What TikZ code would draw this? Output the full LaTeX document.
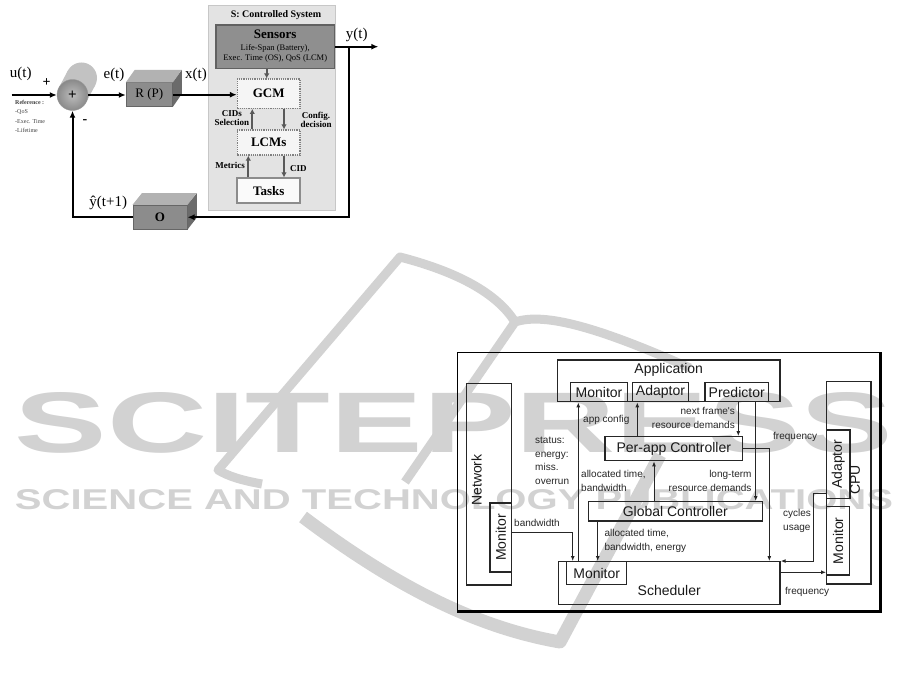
\documentclass[tikz,border=0pt]{standalone}
\usepackage{graphicx}
\usepackage{fontspec}
\setmainfont{Liberation Serif}
\newfontfamily\arialfont{Liberation Sans}
\usetikzlibrary{arrows.meta,calc}
\definecolor{wmgray}{RGB}{210,210,210}

\begin{document}
\begin{tikzpicture}[x=1pt, y=-1pt,
  sysbox/.style={draw=black!85, line width=1.3pt, inner sep=0pt, text=black!90, font=\arialfont\fontsize{14}{16}\selectfont},
  lbl/.style={font=\arialfont\fontsize{10}{13.5}\selectfont, inner sep=0pt, align=left, text=black!85},
  flow/.style={-{Latex[length=5pt,width=4pt]}, line width=1pt, black!85},
  sigline/.style={-{Latex[length=7pt,width=6pt]}, line width=2pt},
  garr/.style={-{Latex[length=5pt,width=5.5pt]}, line width=1.8pt, black!65},
  cmbox/.style={draw=black!50, densely dotted, line width=1.2pt, fill=black!4, minimum width=62.7pt, inner sep=0pt, font=\fontsize{13}{15}\selectfont\bfseries},
  siglbl/.style={font=\fontsize{15}{16}\selectfont, inner sep=0pt},
  cslbl/.style={font=\fontsize{9}{9.5}\selectfont\bfseries, inner sep=0pt, align=center},
  cube/.style={draw=black!60, fill=black!45, inner sep=0pt, font=\fontsize{13}{15}\selectfont},
  wm/.style={text=wmgray, inner sep=0pt, font=\arialfont\bfseries},
  wmline/.style={draw=wmgray, line width=9pt, line join=round}
]

\useasboundingbox (0,0) rectangle (901,684);

% watermark
\node[wm] (wmtitle) at (454,423) {\resizebox{878pt}{60pt}{SCITEPRESS}};
\node[wm] (wmsub) at (454,500) {\resizebox{878pt}{20pt}{SCIENCE AND TECHNOLOGY PUBLICATIONS}};
\draw[wmline] (262,484) .. controls (240,480) and (228,476) .. (218,470) -- (400,257)
  .. controls (450,270) and (495,290) .. (515,322)
  .. controls (545,312) and (600,328) .. (690,368);
\draw[wmline] (515,322) -- (405,482);
\draw[wmline, line width=13pt] (303,517) .. controls (400,590) and (480,628) .. (560,642) -- (660,455);

% controlled system
\node[draw=black!22, fill=black!11, minimum width=126.7pt, minimum height=205pt, inner sep=0pt] (cs) at (271.7,107.5) {};
\node[font=\fontsize{10}{12}\selectfont\bfseries, inner sep=0pt] (cstitle) at (276,15) {S: Controlled System};
\node[draw=black!62, line width=1.5pt, fill=black!44, minimum width=118.3pt, minimum height=43.3pt, inner sep=0pt] (sens) at (275.2,46.7) {};
\node[font=\fontsize{13}{15}\selectfont\bfseries, inner sep=0pt] (senstitle) at (275.2,34) {Sensors};
\node[font=\fontsize{8.5}{10}\selectfont, align=center, inner sep=0pt] (sensinfo) at (275.2,53.3) {Life-Span (Battery),\\Exec. Time (OS), QoS (LCM)};
\node[cmbox, minimum height=29.3pt] (gcm) at (268.7,93.7) {GCM};
\node[cmbox, minimum height=25pt] (lcm) at (268.7,142.5) {LCMs};
\node[cmbox, solid, draw=black!45, line width=1.8pt, fill=black!2, minimum height=25pt] (tasks) at (268.7,190.8) {Tasks};

\draw[garr] (266.7,0 |- sens.south) -- (266.7,0 |- gcm.north);
\draw[garr] (252.3,0 |- lcm.north) -- (252.3,0 |- gcm.south);
\draw[garr] (284,0 |- gcm.south) -- (284,0 |- lcm.north);
\draw[garr] (248.3,0 |- tasks.north) -- (248.3,0 |- lcm.south);
\draw[garr] (284,0 |- lcm.south) -- (284,0 |- tasks.north);
\node[cslbl, anchor=east] (cids) at (249.3,118) {CIDs\\Selection};
\node[cslbl] (config) at (316,120) {Config.\\decision};
\node[cslbl, anchor=east] (metrics) at (245,165.7) {Metrics};
\node[cslbl, anchor=west] (cid) at (290,168.3) {CID};

% summing point
\coordinate (sumc) at (72.5,95);
\fill[black!24] ($(sumc)+(9,-17)$) circle (15.5);
\fill[black!24] ($(sumc)+(-13.7,-7.25)$) -- ($(sumc)+(-4.7,-24.25)$) -- ($(sumc)+(22.7,-9.75)$) -- ($(sumc)+(13.7,7.25)$) -- cycle;
\node[circle, minimum size=31pt, inner sep=0pt, draw=black!40, inner color=black!26, outer color=black!46, font=\fontsize{15}{15}\selectfont\bfseries] (sum) at (sumc) {+};

\coordinate (uin) at (11.7,95);
\draw[sigline] (uin) -- (sum.west);
\node[siglbl] (ulbl) at (20.8,74) {u(t)};
\node[font=\fontsize{14}{14}\selectfont\bfseries, inner sep=0pt] (plus) at (46.7,82.7) {+};
\node[font=\fontsize{14}{14}\selectfont\bfseries, inner sep=0pt] (minus) at (85,121.7) {-};
\node[font=\fontsize{6}{9.3}\selectfont, align=left, anchor=north west, inner sep=0pt, text=black!75] (ref) at (15,100) {\textbf{Reference :}\\-QoS\\-Exec. Time\\-Lifetime};

% regulator
\node[cube, minimum width=46.7pt, minimum height=24pt] (rp) at (149.3,94.7) {R (P)};
\fill[black!30] (rp.north west) -- ++(9,-12.7) -- ++(46.7,0) -- (rp.north east) -- cycle;
\fill[black!58] (rp.north east) -- ++(9,-12.7) -- ++(0,24) -- (rp.south east) -- cycle;
\draw[sigline] (sum.east) -- (sum.east -| rp.west);
\draw[sigline] (rp.east) -- (rp.east -| gcm.west);
\node[siglbl] (elbl) at (114,75) {e(t)};
\node[siglbl] (xlbl) at (196,75) {x(t)};

% output and observer
\coordinate (yout) at (378.3,46.7);
\coordinate (fbtop) at (349.3,46.7);
\draw[sigline] (sens.east) -- (yout);
\node[siglbl] (ylbl) at (356.7,35) {y(t)};
\node[cube, minimum width=54.6pt, minimum height=24.3pt, font=\fontsize{13}{15}\selectfont\bfseries] (obs) at (160,217.2) {O};
\fill[black!30] (obs.north west) -- ++(9.4,-11.7) -- ++(54.6,0) -- (obs.north east) -- cycle;
\fill[black!58] (obs.north east) -- ++(9.4,-11.7) -- ++(0,24.3) -- (obs.south east) -- cycle;
\draw[sigline] (fbtop) |- (obs.east);
\draw[sigline] (obs.west) -| (sum.south);
\node[siglbl] (yhat) at (108.3,202.5) {ŷ(t+1)};

% architecture
\node[draw, line width=1pt, minimum width=422pt, minimum height=258.5pt, inner sep=0pt] (frame) at (668.5,481.75) {};
\draw[line width=3pt] (frame.north east) -- (frame.south east) -- (frame.south west);

\node[sysbox, minimum width=222.7pt, minimum height=41.7pt, label={[anchor=north, inner sep=4pt, text=black!90, font=\arialfont\fontsize{14}{16}\selectfont]north:Application}] (app) at (668.7,380.8) {};
\node[sysbox, minimum width=56.6pt, minimum height=19.4pt] (appmon) at (599,392) {Monitor};
\node[sysbox, minimum width=55.6pt, minimum height=19.4pt] (adapt) at (660.5,392) {Adaptor};
\node[sysbox, minimum width=63.3pt, minimum height=19.4pt] (pred) at (736.7,392) {Predictor};
\node[sysbox, minimum width=137.7pt, minimum height=24pt] (perapp) at (673.8,448.7) {Per-app Controller};
\node[sysbox, minimum width=174pt, minimum height=19.3pt] (glob) at (675.3,511.3) {Global Controller};
\node[sysbox, minimum width=221.7pt, minimum height=42.6pt, label={[anchor=south, inner sep=9pt, text=black!90, font=\arialfont\fontsize{14}{16}\selectfont]south:Scheduler}] (sched) at (669.2,583) {};
\node[sysbox, minimum width=60pt, minimum height=22.6pt] (schedmon) at (596.7,573) {Monitor};

\node[sysbox, minimum width=45pt, minimum height=201.7pt] (net) at (489.2,484.2) {};
\node[inner sep=0pt, text=black!90, font=\arialfont\fontsize{14}{16}\selectfont] (netlbl) at (476.7,480) {\rotatebox{90}{Network}};
\node[sysbox, minimum width=21.7pt, minimum height=69pt] (netmon) at (500.8,537.5) {\rotatebox{90}{Monitor}};

\node[sysbox, minimum width=44.3pt, minimum height=202.3pt] (cpu) at (848.8,482.8) {};
\node[sysbox, minimum width=23.3pt, minimum height=68.3pt] (cpuadapt) at (838.3,464.2) {\rotatebox{90}{Adaptor}};
\node[sysbox, minimum width=22.6pt, minimum height=68.3pt] (cpumon) at (838,540.8) {\rotatebox{90}{Monitor}};
\node[inner sep=0pt, text=black!90, font=\arialfont\fontsize{14}{16}\selectfont] (cpulbl) at (855,480) {\rotatebox{90}{CPU}};

\draw[flow] (578.3,0 |- sched.north) -- (578.3,0 |- appmon.south);
\draw[flow] (637.3,0 |- perapp.north) -- (637.3,0 |- adapt.south);
\draw[flow] (738.3,0 |- pred.south) -- (738.3,0 |- perapp.north);
\draw[flow] (755.7,0 |- pred.south) -- (755.7,0 |- glob.north);
\draw[flow] (perapp.east) -| (769.3,0 |- sched.north);
\draw[flow] (654,0 |- glob.north) -- (654,0 |- perapp.south);
\draw[flow] (597.7,0 |- glob.south) -- (597.7,0 |- sched.north);
\draw[flow] (netmon.east |- 0,532.7) -| (572.7,0 |- sched.north);
\draw[flow] (cpu.west |- 0,493.3) -| (813.3,0 |- sched.north) -- (sched.north east);
\draw[flow] (sched.east |- 0,572.3) -- (cpumon.west |- 0,572.3);

\node[lbl, anchor=west] (appcfg) at (583,420) {app config};
\node[lbl, anchor=east, align=right] (nextfr) at (735,418) {next frame's\\resource demands};
\node[lbl, anchor=west] (freqa) at (773,436.7) {frequency};
\node[lbl, anchor=west] (status) at (535,461) {status:\\energy:\\miss.\\overrun};
\node[lbl, anchor=west] (alloca) at (581,480.7) {allocated time,\\bandwidth};
\node[lbl, anchor=east, align=right] (longterm) at (751.7,481) {long-term\\resource demands};
\node[lbl, anchor=west] (allocb) at (604.3,540.8) {allocated time,\\bandwidth, energy};
\node[lbl, anchor=west] (bw) at (514,523) {bandwidth};
\node[lbl, anchor=west] (cycles) at (783,521) {cycles\\usage};
\node[lbl, anchor=west] (freqb) at (785,591.7) {frequency};

\end{tikzpicture}
\end{document}
